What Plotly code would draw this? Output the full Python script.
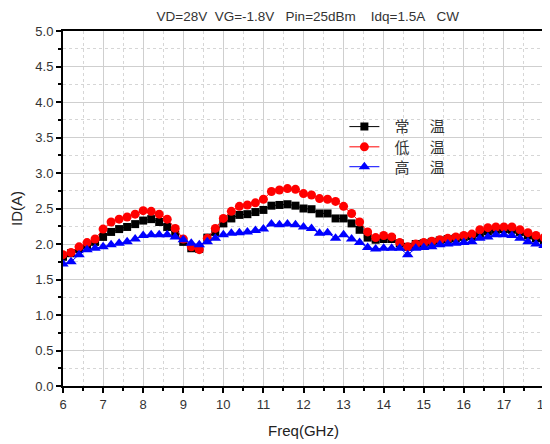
import plotly.graph_objects as go

freq = [round(6.0 + 0.2 * i, 1) for i in range(61)]

normal_temp = [1.82, 1.87, 1.93, 1.98, 2.03, 2.10, 2.17, 2.21, 2.24, 2.28, 2.33, 2.35, 2.31, 2.24, 2.13,
               2.03, 1.94, 1.93, 2.09, 2.17, 2.29, 2.36, 2.41, 2.42, 2.45, 2.48, 2.54, 2.55, 2.56, 2.54,
               2.50, 2.49, 2.43, 2.43, 2.36, 2.36, 2.29, 2.20, 2.09, 2.06, 2.07, 2.07, 2.01, 1.96, 2.00,
               2.01, 2.03, 2.05, 2.07, 2.08, 2.10, 2.11, 2.15, 2.18, 2.20, 2.21, 2.20, 2.17, 2.12, 2.08, 2.05]
low_temp = [1.85, 1.88, 1.96, 2.02, 2.07, 2.21, 2.31, 2.35, 2.38, 2.42, 2.47, 2.46, 2.42, 2.35, 2.22,
            2.07, 1.96, 1.92, 2.08, 2.22, 2.36, 2.46, 2.53, 2.55, 2.58, 2.63, 2.74, 2.76, 2.78, 2.77,
            2.71, 2.69, 2.64, 2.63, 2.60, 2.53, 2.43, 2.31, 2.17, 2.09, 2.12, 2.10, 2.02, 1.96, 2.00,
            2.02, 2.04, 2.06, 2.08, 2.10, 2.12, 2.14, 2.20, 2.23, 2.24, 2.24, 2.24, 2.20, 2.16, 2.12, 2.09]
high_temp = [1.72, 1.75, 1.85, 1.92, 1.94, 1.96, 1.99, 2.01, 2.03, 2.07, 2.12, 2.13, 2.13, 2.13, 2.10,
             2.06, 2.01, 1.99, 2.03, 2.08, 2.13, 2.15, 2.16, 2.17, 2.19, 2.21, 2.28, 2.27, 2.28, 2.27,
             2.24, 2.22, 2.15, 2.16, 2.08, 2.13, 2.07, 2.02, 1.95, 1.93, 1.94, 1.94, 1.94, 1.85, 1.94,
             1.95, 1.96, 1.99, 2.00, 2.01, 2.02, 2.03, 2.08, 2.10, 2.13, 2.13, 2.12, 2.08, 2.03, 2.00, 1.98]

gap = "\u00a0" * 6
lead = "\u00a0" * 3
series_names = [lead + "常" + gap + "温", lead + "低" + gap + "温", lead + "高" + gap + "温"]
title_text = "VD=28V\u00a0\u00a0VG=-1.8V\u00a0\u00a0\u00a0Pin=25dBm\u00a0\u00a0\u00a0\u00a0Idq=1.5A\u00a0\u00a0\u00a0CW"

fig = go.Figure()
fig.add_trace(go.Scatter(x=freq, y=normal_temp, name=series_names[0], mode="lines+markers",
                         line=dict(color="black", width=1), legend="legend",
                         marker=dict(symbol="square", size=8, color="black")))
fig.add_trace(go.Scatter(x=freq, y=low_temp, name=series_names[1], mode="lines+markers",
                         line=dict(color="#ff0000", width=1), legend="legend2",
                         marker=dict(symbol="circle", size=9, color="#ff0000")))
fig.add_trace(go.Scatter(x=freq, y=high_temp, name=series_names[2], mode="lines+markers",
                         line=dict(color="#0000ff", width=1), legend="legend3",
                         marker=dict(symbol="triangle-up", size=10, color="#0000ff")))

axis_common = dict(
    showline=True, linecolor="black", linewidth=2, mirror=True,
    ticks="outside", ticklen=5, tickwidth=2, tickcolor="black",
    showgrid=True, gridcolor="#cfcfcf", gridwidth=1,
    zeroline=False,
    tickfont=dict(family="Liberation Sans, Arial, sans-serif", size=13, color="#333333"),
)

fig.update_xaxes(
    range=[6, 18], dtick=1, tick0=6,
    minor=dict(dtick=0.5, ticks="outside", ticklen=3, tickwidth=2, tickcolor="black",
               showgrid=True, gridcolor="#d6d6d6", griddash="dot", gridwidth=1),
    title=dict(text="Freq(GHz)", font=dict(family="Liberation Sans, Arial, sans-serif", size=15, color="#222222"),
               standoff=15),
    **axis_common,
)
fig.update_yaxes(
    range=[0, 5], dtick=0.5, tick0=0, tickformat=".1f",
    minor=dict(dtick=0.25, ticks="outside", ticklen=3, tickwidth=2, tickcolor="black",
               showgrid=True, gridcolor="#d6d6d6", griddash="dot", gridwidth=1),
    title=dict(text="ID(A)", font=dict(family="Liberation Sans, Arial, sans-serif", size=15, color="#222222"),
               standoff=10),
    **axis_common,
)

leg_common = dict(x=0.585, xanchor="left", yanchor="middle", bgcolor="rgba(0,0,0,0)", borderwidth=0,
                  font=dict(family="Noto Sans CJK SC", size=15, color="#333333"))

fig.update_layout(
    width=550, height=444,
    margin=dict(l=55, r=7, t=23, b=66),
    paper_bgcolor="white", plot_bgcolor="white",
    title=dict(text=title_text, x=0.545, xanchor="center", y=0.982, yanchor="middle",
               font=dict(family="Liberation Sans, Arial, sans-serif", size=13.5, color="#333333")),
    legend=dict(y=0.73, **leg_common),
    legend2=dict(y=0.673, **leg_common),
    legend3=dict(y=0.617, **leg_common),
    showlegend=True,
)

fig.write_html("out.html")
